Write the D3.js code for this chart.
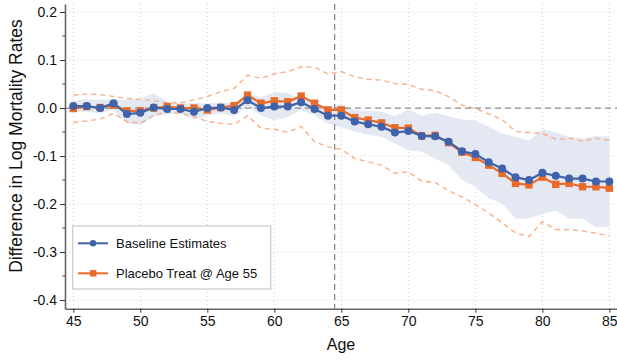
<!DOCTYPE html>
<html>
<head>
<meta charset="utf-8">
<script src="https://d3js.org/d3.v7.min.js"></script>
<style>
  body { margin: 0; background: #fff; }
  text { font-family: "Liberation Sans", Arial, sans-serif; }
</style>
</head>
<body>
<div id="chart"></div>
<script>
// data
var ages = d3.range(45, 86);
var baseline = [0.004, 0.004, 0.0, 0.01, -0.0125, -0.01, 0.001, -0.002, -0.002, -0.008,
  0.0, 0.001, -0.004, 0.016, 0.0, 0.003, 0.003, 0.012, -0.002, -0.016,
  -0.016, -0.028, -0.034, -0.039, -0.051, -0.048, -0.058, -0.059, -0.07, -0.09,
  -0.096, -0.113, -0.126, -0.144, -0.15, -0.135, -0.141, -0.147, -0.147, -0.153, -0.153];
var placebo = [-0.001, 0.003, 0.001, 0.006, -0.006, -0.006, 0.0, 0.003, 0.0, 0.0,
  -0.004, 0.001, 0.005, 0.027, 0.01, 0.015, 0.013, 0.025, 0.01, -0.004,
  -0.004, -0.02, -0.025, -0.031, -0.041, -0.042, -0.058, -0.057, -0.072, -0.092,
  -0.103, -0.119, -0.136, -0.157, -0.16, -0.144, -0.159, -0.157, -0.164, -0.164, -0.167];
var bandHi = [0.015, 0.018, 0.018, 0.017, 0.017, 0.02, 0.031, 0.013, 0.01, 0.01,
  0.01, 0.011, 0.01, 0.031, 0.022, 0.034, 0.031, 0.02, 0.01, 0.003,
  0.008, -0.004, -0.006, -0.008, -0.017, -0.003, -0.016, -0.01, -0.017, -0.024,
  -0.026, -0.039, -0.053, -0.06, -0.068, -0.044, -0.051, -0.06, -0.063, -0.058, -0.06];
var bandLo = [-0.008, -0.008, -0.011, -0.004, -0.032, -0.035, -0.018, -0.013, -0.011, -0.024,
  -0.015, -0.011, -0.017, 0.003, -0.015, -0.026, -0.018, -0.004, -0.015, -0.032,
  -0.04, -0.049, -0.056, -0.06, -0.074, -0.088, -0.091, -0.105, -0.119, -0.15,
  -0.164, -0.188, -0.199, -0.23, -0.23, -0.221, -0.213, -0.23, -0.23, -0.249, -0.247];
var ciHi = [0.027, 0.029, 0.028, 0.024, 0.02, 0.018, 0.015, 0.011, 0.011, 0.017,
  0.024, 0.034, 0.041, 0.068, 0.062, 0.071, 0.076, 0.086, 0.085, 0.071,
  0.076, 0.065, 0.06, 0.058, 0.051, 0.049, 0.039, 0.036, 0.024, 0.006,
  -0.001, -0.0125, -0.024, -0.049, -0.051, -0.053, -0.065, -0.063, -0.069, -0.063, -0.067];
var ciLo = [-0.03, -0.027, -0.023, -0.011, -0.028, -0.032, -0.015, -0.008, -0.011, -0.018,
  -0.028, -0.032, -0.034, -0.016, -0.042, -0.044, -0.051, -0.038, -0.07, -0.081,
  -0.086, -0.105, -0.112, -0.119, -0.136, -0.133, -0.152, -0.155, -0.172, -0.185,
  -0.201, -0.219, -0.239, -0.26, -0.268, -0.237, -0.253, -0.253, -0.256, -0.261, -0.266];
var xTicks = [45, 50, 55, 60, 65, 70, 75, 80, 85];
var yTicks = [0.2, 0.1, 0.0, -0.1, -0.2, -0.3, -0.4];
var yMinor = [0.15, 0.05, -0.05, -0.15, -0.25, -0.35];
var seriesNames = ["Baseline Estimates", "Placebo Treat @ Age 55"];

var blue = "#3f63aa", orange = "#ea6a2a";

var width = 617, height = 360;
// plot box (named so they do not clash with window.top)
var pLeft = 65, pRight = 617, pTop = 4, pBottom = 308.7;

var svg = d3.select("#chart").append("svg")
  .attr("width", width).attr("height", height);

var x = d3.scaleLinear().domain([44.38, 85.57]).range([pLeft, pRight]);
var y = d3.scaleLinear().domain([-0.418, 0.2167]).range([pBottom, pTop]);

// dotted grid
svg.append("g").selectAll("line").data(xTicks).enter().append("line")
  .attr("x1", function (d) { return x(d); }).attr("x2", function (d) { return x(d); })
  .attr("y1", pTop).attr("y2", pBottom)
  .attr("stroke", "#cfcfcf").attr("stroke-width", 1).attr("stroke-dasharray", "1,3");
svg.append("g").selectAll("line").data(yTicks.filter(function (d) { return d !== 0; })).enter().append("line")
  .attr("x1", pLeft).attr("x2", pRight)
  .attr("y1", function (d) { return y(d); }).attr("y2", function (d) { return y(d); })
  .attr("stroke", "#cfcfcf").attr("stroke-width", 1).attr("stroke-dasharray", "1,3");

// shaded band around baseline
var area = d3.area()
  .x(function (d, i) { return x(ages[i]); })
  .y0(function (d, i) { return y(bandLo[i]); })
  .y1(function (d, i) { return y(bandHi[i]); });
svg.append("path").datum(ages).attr("d", area).attr("fill", "#e3e8f2");

// placebo confidence bounds
var lineOf = function (arr) {
  return d3.line().x(function (d, i) { return x(ages[i]); }).y(function (d, i) { return y(arr[i]); })(ages);
};
[ciHi, ciLo].forEach(function (arr) {
  svg.append("path").attr("d", lineOf(arr))
    .attr("fill", "none").attr("stroke", "#f7b088").attr("stroke-width", 1.4)
    .attr("stroke-dasharray", "5,4");
});

// reference lines
svg.append("line").attr("x1", pLeft).attr("x2", pRight).attr("y1", y(0)).attr("y2", y(0))
  .attr("stroke", "#8a8a8a").attr("stroke-width", 1.3).attr("stroke-dasharray", "6,4");
svg.append("line").attr("x1", x(64.5)).attr("x2", x(64.5)).attr("y1", pTop).attr("y2", pBottom)
  .attr("stroke", "#8a8a8a").attr("stroke-width", 1.3).attr("stroke-dasharray", "6,4");

// placebo series (under)
svg.append("path").attr("d", lineOf(placebo))
  .attr("fill", "none").attr("stroke", orange).attr("stroke-width", 2.2);
svg.append("g").selectAll("rect").data(ages).enter().append("rect")
  .attr("x", function (d, i) { return x(d) - 3.7; })
  .attr("y", function (d, i) { return y(placebo[i]) - 3.7; })
  .attr("width", 7.4).attr("height", 7.4).attr("fill", orange);

// baseline series
svg.append("path").attr("d", lineOf(baseline))
  .attr("fill", "none").attr("stroke", blue).attr("stroke-width", 2.2);
svg.append("g").selectAll("circle").data(ages).enter().append("circle")
  .attr("cx", function (d) { return x(d); })
  .attr("cy", function (d, i) { return y(baseline[i]); })
  .attr("r", 4).attr("fill", blue);

// axes
var xAxis = svg.append("g").attr("transform", "translate(0," + pBottom + ")")
  .call(d3.axisBottom(x).tickValues(xTicks).tickSize(4).tickPadding(3).tickSizeOuter(0));
var yAxis = svg.append("g").attr("transform", "translate(" + pLeft + ",0)")
  .call(d3.axisLeft(y).tickValues(yTicks).tickFormat(d3.format(".1f")).tickSize(5).tickPadding(3).tickSizeOuter(0));
svg.append("g").selectAll("line").data(yMinor).enter().append("line")
  .attr("x1", pLeft - 2.5).attr("x2", pLeft)
  .attr("y1", function (d) { return y(d); }).attr("y2", function (d) { return y(d); })
  .attr("stroke", "#333");
[xAxis, yAxis].forEach(function (g) {
  g.select(".domain").attr("stroke", "#666").attr("stroke-width", 1.6);
  g.selectAll(".tick line").attr("stroke", "#333");
  g.selectAll(".tick text").attr("fill", "#111").style("font-size", "14px")
    .style("font-family", "'Liberation Sans', Arial, sans-serif");
});
yAxis.selectAll(".tick text").text(function (d) { return d3.format(".1f")(d).replace("−", "-"); });

// axis titles
svg.append("text")
  .attr("x", 341).attr("y", 350)
  .attr("text-anchor", "middle").style("font-size", "16px").attr("fill", "#111")
  .text("Age");
svg.append("text")
  .attr("transform", "rotate(-90)")
  .attr("x", -146).attr("y", 22)
  .attr("text-anchor", "middle").style("font-size", "17.5px").attr("fill", "#111")
  .text("Difference in Log Mortality Rates");

// legend
var lg = svg.append("g");
lg.append("rect").attr("x", 72.7).attr("y", 226).attr("width", 198).attr("height", 63)
  .attr("fill", "#fff").attr("stroke", "#c8c8c8").attr("stroke-width", 1.2);
seriesNames.forEach(function (name, i) {
  var ly = 243.3 + i * 30;
  var col = i === 0 ? blue : orange;
  lg.append("line").attr("x1", 78).attr("x2", 108).attr("y1", ly).attr("y2", ly)
    .attr("stroke", col).attr("stroke-width", 2);
  if (i === 0) {
    lg.append("circle").attr("cx", 93).attr("cy", ly).attr("r", 3.3).attr("fill", col);
  } else {
    lg.append("rect").attr("x", 90).attr("y", ly - 3.2).attr("width", 6.4).attr("height", 6.4).attr("fill", col);
  }
  lg.append("text").attr("x", 116).attr("y", ly + 4.8)
    .style("font-size", "13px").attr("fill", "#111").text(name);
});
</script>
</body>
</html>
